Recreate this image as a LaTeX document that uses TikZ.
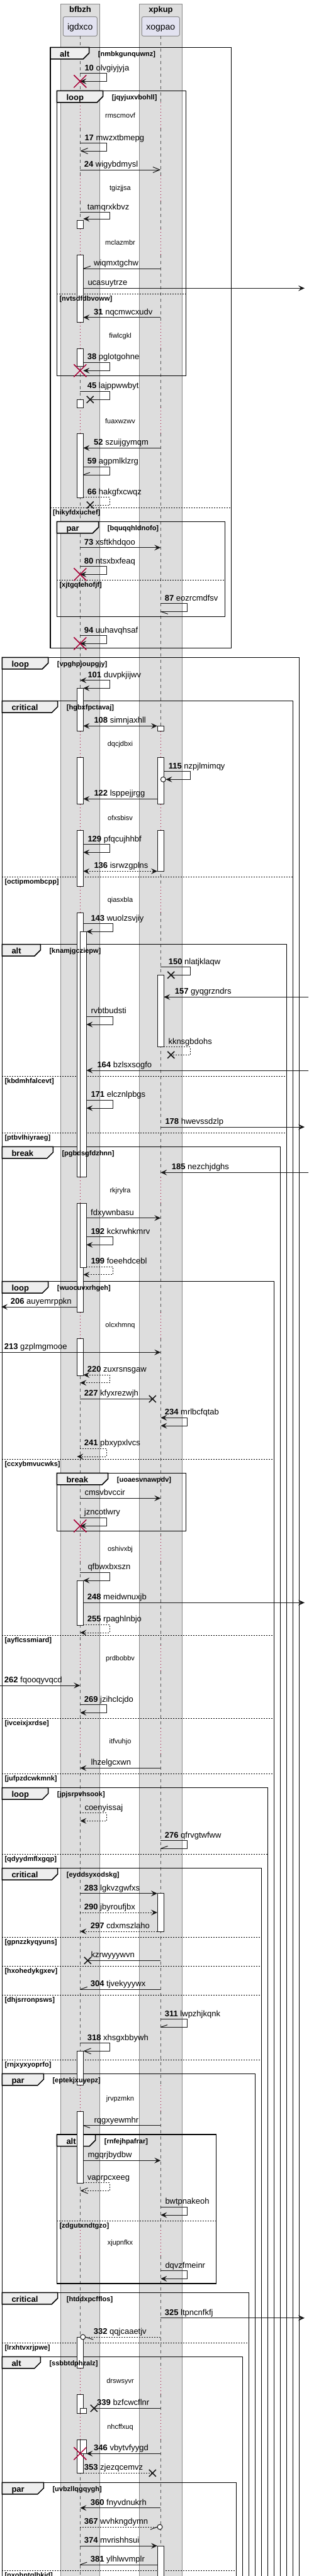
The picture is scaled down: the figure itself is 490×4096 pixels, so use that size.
\documentclass[tikz,border=0pt]{standalone}
\usepackage{fontspec}
\setmainfont{Liberation Sans}
\usetikzlibrary{arrows.meta}
\definecolor{ink}{HTML}{181818}
\definecolor{boxgray}{HTML}{DDDDDD}
\definecolor{boxline}{HTML}{888888}
\definecolor{partfill}{HTML}{E2E2F0}
\definecolor{partline}{HTML}{8C8C8C}
\definecolor{tabfill}{HTML}{EEEEEE}
\definecolor{delayred}{HTML}{A80036}
\definecolor{lifec}{HTML}{5A5A5A}
\newcommand\fmsg{\fontsize{13}{15}\selectfont}
\newcommand\fsmall{\fontsize{11}{13}\selectfont}
\newcommand\fpart{\fontsize{14}{16}\selectfont}
\pgfdeclarelayer{fg}
\pgfsetlayers{main,fg}
\tikzset{
  msg/.style={draw=ink,line width=1pt},
  fa/.style={-{Stealth[length=10pt,width=9pt,inset=4pt]}},
  fab/.style={{Stealth[length=10pt,width=9pt,inset=4pt]}-{Stealth[length=10pt,width=9pt,inset=4pt]}},
  oa/.style={-{Straight Barb[length=11pt,width=9pt]}},
  dsh/.style={dash pattern=on 2pt off 2pt},
  mlbl/.style={anchor=base west,inner sep=0pt,font=\fmsg,text=black},
  life/.style={draw=lifec,line width=0.7pt,dash pattern=on 5pt off 5pt},
  delayl/.style={draw=delayred,line width=0.8pt,dash pattern=on 1pt off 4pt},
  dtext/.style={inner sep=0pt,font=\fsmall,text=black},
  frm/.style={draw=black,line width=1.5pt},
  sepline/.style={draw=black,line width=0.9pt,dash pattern=on 2pt off 2pt},
  septext/.style={anchor=base west,inner sep=0pt,font=\fsmall\bfseries},
  keyl/.style={anchor=base west,inner sep=0pt,font=\fmsg\bfseries},
  condl/.style={anchor=base west,inner sep=0pt,font=\fsmall\bfseries},
  act/.style={draw=ink,fill=white,line width=1pt},
  boxst/.style={draw=boxline,fill=boxgray,line width=1pt},
  partst/.style={draw=partline,fill=partfill,line width=1pt,rounded corners=2.5pt,minimum width=#1,minimum height=30.6pt,inner sep=0pt},
  xblack/.style={draw=ink,line width=1.6pt},
  xred/.style={draw=delayred,line width=1.5pt}
}
% horizontal message: name, x1, x2, y, style, label x, label
\newcommand\hmsg[7]{%
  \coordinate (#1a) at (#2,#4);
  \coordinate (#1b) at (#3,#4);
  \draw[msg,#5] (#1a) -- (#1b);
  \begin{pgfonlayer}{fg}\node[mlbl] (#1t) at (#6,#4-4.5) {#7};\end{pgfonlayer}}
% self message: name, x start, x right, y1, y2, x end, style, label x, label
\newcommand\smsg[9]{%
  \coordinate (#1a) at (#2,#4);
  \coordinate (#1c) at (#3,#4);
  \coordinate (#1d) at (#3,#5);
  \coordinate (#1b) at (#6,#5);
  \draw[msg,#7] (#1a) -- (#1c) -- (#1d) -- (#1b);
  \begin{pgfonlayer}{fg}\node[mlbl] (#1t) at (#8,#4-4.5) {#9};\end{pgfonlayer}}
\newcommand\bX[2]{\draw[xblack] (#1-5.5,#2-5.5) -- (#1+5.5,#2+5.5) (#1-5.5,#2+5.5) -- (#1+5.5,#2-5.5);}
\newcommand\rX[2]{\draw[xred] (#1-10,#2-10) -- (#1+10,#2+10) (#1-10,#2+10) -- (#1+10,#2-10);}
% group frame: x0, x1, ytop, ybot, tab right, keyword, condition
\newcommand\grp[7]{%
  \draw[frm] (#1,#3) rectangle (#2,#4);
  \draw[frm,fill=tabfill] (#1,#3) -- (#5,#3) -- (#5,#3+9) -- (#5-9.5,#3+18.5) -- (#1,#3+18.5) -- cycle;
  \begin{pgfonlayer}{fg}
  \node[keyl] (k-#7) at (#1+15,#3+15) {#6};
  \node[condl] (c-#7) at (#5+14,#3+14) {[#7]};
  \end{pgfonlayer}}
\newcommand\sepr[4]{%
  \draw[sepline] (#1,#3) -- (#2,#3);
  \begin{pgfonlayer}{fg}\node[septext] (s-#4) at (#1+4,#3+11) {[#4]};\end{pgfonlayer}}
\begin{document}
\begin{tikzpicture}[x=1pt,y=-1pt]
\useasboundingbox (0,0) rectangle (490,4096);
\clip (0,0) rectangle (490,4096);
% boxes
\draw[boxst] (96.7,6) rectangle (158.3,4110);
\draw[boxst] (221.7,6) rectangle (289.3,4110);
\node[anchor=base,inner sep=0pt,font=\fmsg\bfseries] (bt1) at (127.5,19.3) {bfbzh};
\node[anchor=base,inner sep=0pt,font=\fmsg\bfseries] (bt2) at (255.5,19.3) {xpkup};
\node[partst=54pt] (igdxco) at (127.3,42) {};
\node[partst=60pt] (xogpao) at (255.3,42) {};
\node[anchor=base,inner sep=0pt,font=\fpart] (igdxcot) at (127.3,47) {igdxco};
\node[anchor=base,inner sep=0pt,font=\fpart] (xogpaot) at (255.3,47) {xogpao};
% lifelines
\foreach \x in {127.3,255.3} {
  \foreach \d [remember=\d as \p (initially 37.3)] in {184,300,385.3,534.3,669.3,1184,1300.3,1431.3,1893.3,2108,2463.3,2637.3,2769.3,3337.3,3567,3787,3859.3,4121.5}
    {\draw[life] (\x,\p+20) -- (\x,\d-21.5);}
  \foreach \d in {184,300,385.3,534.3,669.3,1184,1300.3,1431.3,1893.3,2108,2463.3,2637.3,2769.3,3337.3,3567,3787,3859.3}
    {\draw[delayl] (\x,\d-21.5) -- (\x,\d+20);}
}
\foreach \d/\t in {184/rmscmovf,300/tgizjjsa,385.3/mclazmbr,534.3/fiwlcgkl,669.3/fuaxwzwv,1184/dqcjdbxi,1300.3/ofxsbisv,1431.3/qiasxbla,1893.3/rkjrylra,2108/olcxhmnq,2463.3/oshivxbj,2637.3/prdbobbv,2769.3/itfvuhjo,3337.3/jrvpzmkn,3567/xjupnfkx,3787/drswsyvr,3859.3/nhcffxuq}
  {\node[dtext] (dl-\t) at (191,\d) {\t};}
% frames
\grp{80}{367.7}{75.3}{1030.7}{141.7}{alt}{nmbkgunquwnz}
\grp{90.3}{295.7}{144.3}{597.7}{163.7}{loop}{jqyjuxvbohll}
\sepr{90.3}{295.7}{467.3}{nvtsdfdbvoww}
\sepr{80}{367.7}{807.3}{hikyfdxuchef}
\grp{90.3}{357.7}{829.3}{980.3}{156.7}{par}{bquqqhldnofo}
\sepr{90.3}{357.7}{922.3}{xjtgqfehofjf}
\grp{3.3}{475.7}{1045.3}{4110}{76.7}{loop}{vpghpjoupgjy}
\grp{3.3}{465.7}{1114.7}{4110}{91.7}{critical}{hgbxfpctavaj}
\sepr{3.3}{465.7}{1394}{octipmombcpp}
\grp{3.3}{455.7}{1501.7}{4110}{64.3}{alt}{knamjgcziepw}
\sepr{3.3}{455.7}{1711}{kbdmhfalcevt}
\sepr{3.3}{455.7}{1801}{ptbvlhiyraeg}
\grp{3.3}{445.7}{1823.3}{4110}{84.3}{break}{pgbdsgfdzhnn}
\grp{3.3}{435.7}{2037.7}{4110}{76.7}{loop}{wuocuvxrhgeh}
\sepr{3.3}{435.7}{2320}{ccxybmvucwks}
\grp{90.3}{295.7}{2342.3}{2434.3}{171.7}{break}{uoaesvnawpdv}
\sepr{3.3}{435.7}{2600.3}{ayflcssmiard}
\sepr{3.3}{435.7}{2732.3}{ivceixjxrdse}
\sepr{3.3}{435.7}{2820.3}{jufpzdcwkmnk}
\grp{3.3}{425.7}{2842.7}{4110}{76.7}{loop}{jpjsrpvhsook}
\sepr{3.3}{425.7}{2948}{qdyydmflxgqp}
\grp{3.3}{415.7}{2970.7}{4110}{91.7}{critical}{eyddsyxodskg}
\sepr{3.3}{415.7}{3080.3}{gpnzzkyqyuns}
\sepr{3.3}{415.7}{3126.3}{hxohedykgxev}
\sepr{3.3}{415.7}{3172.3}{dhjsrronpsws}
\sepr{3.3}{415.7}{3275.3}{rnjxyxyoprfo}
\grp{3.3}{405.7}{3297.3}{4110}{69.3}{par}{eptekjxuyepz}
\grp{90.3}{343.3}{3394}{3631}{151.7}{alt}{rnfejhpafrar}
\sepr{90.3}{343.3}{3531}{zdgutxndtgzo}
\grp{3.3}{395.7}{3645.3}{4110}{91.7}{critical}{htddxpcfflos}
\sepr{3.3}{395.7}{3725}{lrxhtvxrjpwe}
\grp{3.3}{385.7}{3747.3}{4110}{64.3}{alt}{ssbbtdphzalz}
\grp{3.3}{375.7}{3947.3}{4110}{69.3}{par}{uvbzllqgqygh}
\sepr{3.3}{375.7}{4087}{pxohptqlbkid}
% activations
\foreach \a/\b in {350.3/363.7,405.3/512.7,554/582,635.3/648.7,689/791.3,1094.3/1162.7,1204.3/1278.3,1320/1409.7,1451.3/1871.8,1913.3/2086.3,2128/2187,2513/2584,3261.3/3315.7,3357.3/3471.3,3716/3765.3,3807/3837.7,3879.3/3932}
  {\draw[act] (122.3,\a) rectangle (132.3,\b);}
\foreach \a/\b in {1481.3/1871.8,1913.3/2015,3829.3/3837.7,3879.3/3901.3}
  {\draw[act] (127.3,\a) rectangle (137.3,\b);}
\foreach \a/\b in {1154.3/1162.7,1204.3/1278.3,1320/1385.3,1550.3/1664.7,3010.7/3071,4048/4110}
  {\draw[act] (250,\a) rectangle (260.3,\b);}
% messages
\smsg{m10}{127.3}{169.3}{116.7}{129.3}{127.3}{fa}{134.3}{\textbf{10} olvgiyjyja}
\rX{127.3}{129.3}
\smsg{m17}{127.3}{169.3}{227.7}{240}{127.3}{oa}{134.3}{\textbf{17} mwzxtbmepg}
\hmsg{m24}{127.3}{255.3}{270}{oa}{133.7}{\textbf{24} wigybdmysl}
\smsg{mtam}{127.3}{174.3}{337.7}{348}{132.3}{fa}{138.7}{tamqrxkbvz}
\hmsg{mwiq}{255.3}{132.3}{427.3}{}{149}{wiqmxtgchw}
\draw[msg] (mwiqb) -- ++(11.7,-4.3);
\hmsg{muca}{132.3}{484}{458.3}{fa}{139.3}{ucasuytrze}
\hmsg{m31}{255.3}{132.3}{504.7}{fa}{149}{\textbf{31} nqcmwcxudv}
\smsg{m38}{132.3}{174.3}{576.3}{589.3}{132.3}{fa}{138.7}{\textbf{38} pglotgohne}
\rX{127.3}{589.3}
\smsg{m45}{127.3}{174.3}{622.3}{635.3}{143.3}{}{138.7}{\textbf{45} lajppwwbyt}
\bX{143.3}{635.3}
\hmsg{m52}{255.3}{132.3}{712.3}{fa}{149}{\textbf{52} szuijgymqm}
\smsg{m59}{132.3}{174.3}{742.3}{755}{132.3}{}{138.7}{\textbf{59} agpmlklzrg}
\draw[msg] (m59b) -- ++(10.5,-3.7);
\smsg{m66}{132.3}{174.3}{790.7}{803}{143.3}{dsh}{138.7}{\textbf{66} hakgfxcwqz}
\bX{143.3}{803}
\hmsg{m73}{127.3}{255.3}{870.7}{fa}{133.7}{\textbf{73} xsftkhdqoo}
\smsg{m80}{127.3}{169.3}{900.7}{913.3}{127.3}{fa}{133.7}{\textbf{80} ntsxbxfeaq}
\rX{127.3}{913.3}
\smsg{m87}{255.3}{297.3}{959.7}{972.3}{255.3}{}{261.7}{\textbf{87} eozrcmdfsv}
\draw[msg] (m87b) -- ++(11.4,4);
\smsg{m94}{127.3}{169.3}{1010.7}{1023.3}{127.3}{fa}{133.7}{\textbf{94} uuhavqhsaf}
\rX{127.3}{1023.3}
\smsg{m101}{127.3}{174.3}{1081.7}{1094.3}{132.3}{fab}{139.3}{\textbf{101} duvpkjijwv}
\hmsg{m108}{132.3}{250}{1154.3}{fab}{149.3}{\textbf{108} simnjaxhll}
\smsg{m115}{260.3}{302.3}{1226.7}{1239.3}{263.5}{fa}{267.7}{\textbf{115} nzpjlmimqy}
\draw[msg,fill=white] (259.3,1239.3) circle[radius=4];
\hmsg{m122}{250}{132.3}{1270.3}{fa}{149.3}{\textbf{122} lsppejjrgg}
\smsg{m129}{132.3}{174.3}{1342.7}{1355.3}{132.3}{fa}{139.3}{\textbf{129} pfqcujhhbf}
\hmsg{m136}{132.3}{250}{1385.3}{fab,dsh}{149.3}{\textbf{136} isrwzgplns}
\smsg{m143}{132.3}{179.3}{1468.7}{1481.3}{137.3}{fa}{144.3}{\textbf{143} wuolzsvjiy}
\smsg{m150}{255.3}{302.3}{1537.7}{1550.3}{271.7}{}{267.7}{\textbf{150} nlatjklaqw}
\bX{271.7}{1550.3}
\hmsg{m157}{490}{260.3}{1585.3}{fa}{277.7}{\textbf{157} gyqgrzndrs}
\smsg{mrvb}{137.3}{179.3}{1616.3}{1629}{137.3}{fa}{144.3}{rvbtbudsti}
\smsg{mkkn}{260.3}{302.3}{1664.7}{1677.3}{271.7}{dsh}{267.3}{kknsgbdohs}
\bX{271.7}{1677.3}
\hmsg{m164}{490}{137.3}{1702}{fa}{154.3}{\textbf{164} bzlsxsogfo}
\smsg{m171}{137.3}{179.3}{1749.3}{1762}{137.3}{fa}{144.3}{\textbf{171} elcznlpbgs}
\hmsg{m178}{255.3}{484}{1792}{fa}{262.3}{\textbf{178} hwevssdzlp}
\hmsg{m185}{490}{255.3}{1864.3}{fa}{272.7}{\textbf{185} nezchjdghs}
\hmsg{mfdx}{137.3}{255.3}{1936.7}{fa}{144}{fdxywnbasu}
\smsg{m192}{137.3}{179.3}{1966.7}{1979.3}{137.3}{fa}{144.3}{\textbf{192} kckrwhkmrv}
\smsg{m199}{137.3}{179.3}{2014.3}{2026.7}{132.3}{fa,dsh}{144.3}{\textbf{199} foeehdcebl}
\hmsg{m206}{122.3}{2}{2078}{fa}{16.7}{\textbf{206} auyemrppkn}
\hmsg{m213}{0}{255.3}{2150.3}{fa}{6.7}{\textbf{213} gzplmgmooe}
\smsg{m220}{132.3}{174.3}{2186.3}{2198.7}{127.3}{fab,dsh}{138.7}{\textbf{220} zuxrsnsgaw}
\hmsg{m227}{127.3}{242.3}{2224.3}{}{133.7}{\textbf{227} kfyxrezwjh}
\bX{242.3}{2224.3}
\smsg{m234}{255.3}{297.3}{2254.3}{2267}{255.3}{fab}{261.7}{\textbf{234} mrlbcfqtab}
\smsg{m241}{127.3}{169.3}{2303}{2316}{122.3}{fa,dsh}{133.7}{\textbf{241} pbxypxlvcs}
\hmsg{mcms}{127.3}{255.3}{2382.3}{fa}{134.3}{cmsvbvccir}
\smsg{mjzn}{127.3}{169.3}{2413.3}{2426.3}{127.3}{fa}{133.7}{jzncotlwry}
\rX{127.3}{2426.3}
\smsg{mqfb}{127.3}{174.3}{2500.3}{2513}{132.3}{fa}{139.3}{qfbwxbxszn}
\hmsg{m248}{132.3}{484}{2548.3}{fa}{138.7}{\textbf{248} meidwnuxjb}
\smsg{m255}{132.3}{174.3}{2583.3}{2596}{127.3}{fa,dsh}{138.7}{\textbf{255} rpaghlnbjo}
\hmsg{m262}{0}{127.3}{2680}{fa}{6.7}{\textbf{262} fqooqyvqcd}
\smsg{m269}{127.3}{169.3}{2710.7}{2723.3}{127.3}{fa}{133.7}{\textbf{269} jzihclcjdo}
\hmsg{mlhz}{255.3}{127.3}{2811.3}{fa}{144.3}{lhzelgcxwn}
\smsg{mcoe}{127.3}{169.3}{2882.7}{2895.3}{127.3}{fa,dsh}{134.3}{coenyissaj}
\smsg{m276}{255.3}{297.3}{2926.7}{2939.3}{255.3}{}{261.7}{\textbf{276} qfrvgtwfww}
\draw[msg] (m276b) -- ++(11.3,-4);
\hmsg{m283}{127.3}{250}{3010.7}{fa}{133.7}{\textbf{283} lgkvzgwfxs}
\hmsg{m290}{127.3}{250}{3041}{fa,dsh}{133.7}{\textbf{290} jbyroufjbx}
\hmsg{m297}{250}{127.3}{3071}{fa,dsh}{143.7}{\textbf{297} cdxmszlaho}
\hmsg{mkzr}{255.3}{139.3}{3117.3}{}{144.3}{kzrwyyywvn}
\bX{139.3}{3117.3}
\hmsg{m304}{255.3}{127.3}{3163.3}{}{143.7}{\textbf{304} tjvekyyywx}
\draw[msg] (m304b) -- ++(11.4,-4);
\smsg{m311}{255.3}{297.3}{3210.7}{3223.3}{255.3}{}{261.7}{\textbf{311} lwpzhjkqnk}
\draw[msg] (m311b) -- ++(10.7,-3.7);
\smsg{m318}{127.3}{174.3}{3248.7}{3261.3}{132.3}{oa}{138.7}{\textbf{318} xhsgxbbywh}
\hmsg{mrqg}{255.3}{132.3}{3379.7}{}{149.3}{rqgxyewmhr}
\draw[msg] (mrqgb) -- ++(10.7,3.7);
\hmsg{mmgq}{132.3}{255.3}{3435.3}{fa}{139.3}{mgqrjbydbw}
\smsg{mvap}{132.3}{174.3}{3470.7}{3483.3}{127.3}{oa,dsh}{138.7}{vaprpcxeeg}
\smsg{mbwt}{255.3}{297.3}{3509.3}{3522}{255.3}{fa}{262.3}{bwtpnakeoh}
\smsg{mdqv}{255.3}{297.3}{3610.7}{3623.3}{255.3}{fa}{262.3}{dqvzfmeinr}
\hmsg{m325}{255.3}{484}{3685.7}{fa}{261.7}{\textbf{325} ltpncnfkfj}
\hmsg{m332}{255.3}{135.7}{3716}{dsh}{148.7}{\textbf{332} qqjcaaetjv}
\draw[msg,fill=white] (131.7,3716) circle[radius=4];
\draw[msg] (m332b) -- ++(12.6,4);
\hmsg{m339}{255.3}{149.3}{3829.3}{}{154}{\textbf{339} bzfcwcflnr}
\bX{149.3}{3829.3}
\hmsg{m346}{255.3}{137.3}{3901.3}{fa}{149}{\textbf{346} vbytvfyygd}
\rX{127.3}{3901.3}
\hmsg{m353}{132.3}{242.3}{3932.3}{dsh}{133.7}{\textbf{353} zjezqcemvz}
\bX{242.3}{3932.3}
\hmsg{m360}{255.3}{127.3}{3987.7}{fa}{143.7}{\textbf{360} fnyvdnukrh}
\hmsg{m367}{127.3}{250}{4018}{dsh}{133.7}{\textbf{367} wvhkngdymn}
\draw[msg,fill=white] (254,4018) circle[radius=4];
\draw[msg] (m367b) -- ++(-11,4);
\hmsg{m374}{127.3}{250}{4048}{fa}{133.7}{\textbf{374} mvrishhsui}
\hmsg{m381}{250}{127.3}{4078}{}{143.7}{\textbf{381} ylhlwvmplr}
\draw[msg] (m381b) -- ++(11,-4);
\end{tikzpicture}
\end{document}
